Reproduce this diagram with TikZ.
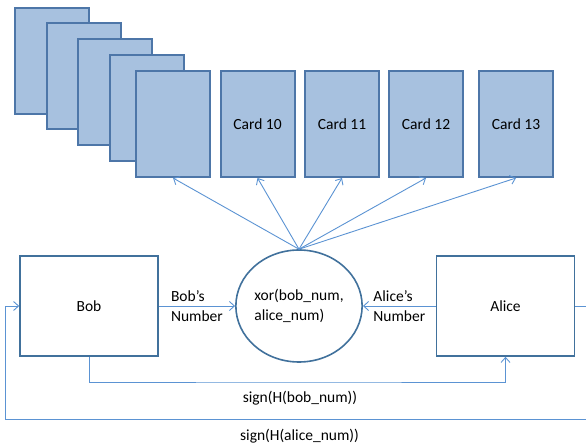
\documentclass[tikz,border=0pt]{standalone}
\usepackage{fontspec}
\setmainfont{Carlito}
\usetikzlibrary{shapes.geometric,arrows.meta}
\definecolor{cardfill}{HTML}{A7C1DF}
\definecolor{carddraw}{HTML}{4D76A8}
\definecolor{boxdraw}{HTML}{41719C}
\definecolor{linkcol}{HTML}{5B93D3}
\begin{document}
\begin{tikzpicture}[x=1pt,y=-1pt,
        font=\fontsize{15.5}{20}\selectfont,
        card/.style={draw=carddraw,fill=cardfill,line width=2pt,minimum width=74pt,minimum height=106pt,inner sep=0pt},
        party/.style={draw=boxdraw,line width=1.6pt,fill=white,minimum width=138pt,minimum height=100pt,inner sep=0pt},
        mixer/.style={ellipse,draw=boxdraw,line width=1.6pt,minimum width=118pt,minimum height=112pt,inner sep=0pt,align=left},
        link/.style={draw=linkcol,line width=0.9pt,-{Straight Barb[length=5pt,width=9pt]}}]
        \useasboundingbox (0,0) rectangle (586,443);

        \node[card] (deck1) at (52,61) {};
        \node[card] (deck2) at (83.5,76.5) {};
        \node[card] (deck3) at (115,92.5) {};
        \node[card] (deck4) at (147,108.5) {};
        \node[card] (deck5) at (173,124) {};
        \node[card] (card10) at (257.5,124) {Card 10};
        \node[card] (card11) at (342,124) {Card 11};
        \node[card] (card12) at (426,124) {Card 12};
        \node[card] (card13) at (516,124) {Card 13};

        \node[party] (bob) at (89,306) {Bob};
        \node[party] (alice) at (505.5,306) {Alice};
        \node[mixer] (xor) at (299,306) {xor(bob\_num,\\alice\_num)};

        \coordinate (midB) at (300,382);
        \coordinate (loopR) at (594,419);
        \coordinate (loopL) at (5,419);

        \foreach \c in {deck5,card10,card11,card12,card13}
            \draw[link] (xor.north) -- (\c.south);

        \draw[link] (bob.east) -- node[midway,align=left,text=black]{Bob’s\\Number} (xor.west);
        \draw[link] (alice.west) -- node[midway,align=left,text=black]{Alice’s\\Number} (xor.east);
        \draw[link] (bob.south) |- (midB) node[below=5pt,text=black]{sign(H(bob\_num))} -| (alice.south);
        \draw[link] (alice.east) -| (loopR) -- node[midway,below=6pt,text=black]{sign(H(alice\_num))} (loopL) |- (bob.west);
    \end{tikzpicture}
\end{document}
